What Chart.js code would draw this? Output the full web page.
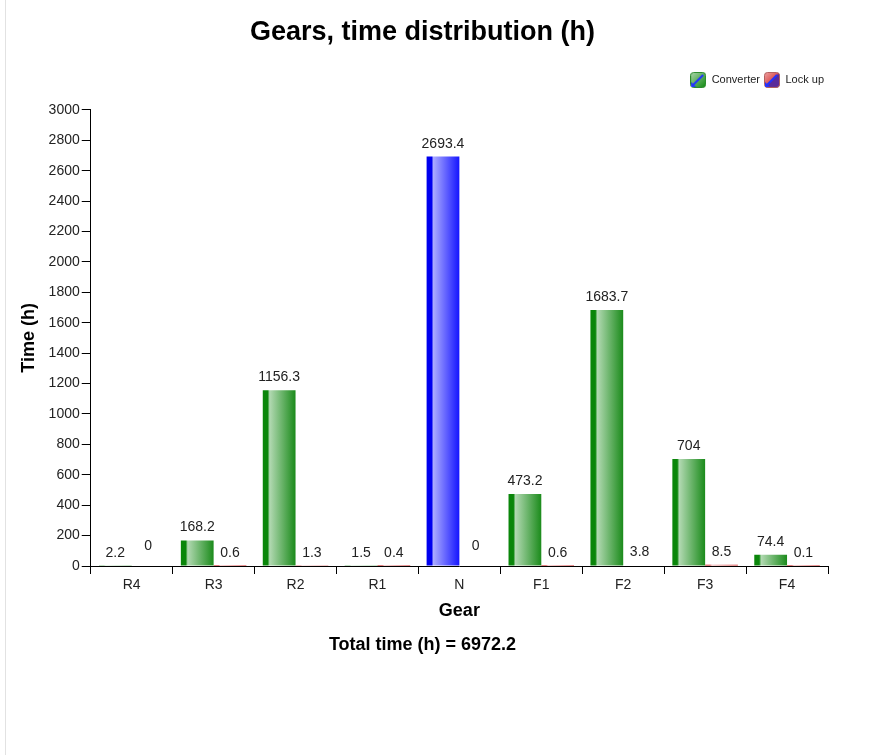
<!DOCTYPE html>
<html><head><meta charset="utf-8">
<script src="https://cdn.jsdelivr.net/npm/chart.js@4/dist/chart.umd.min.js"></script>
<style>
html,body{margin:0;padding:0;background:#fff;}
#wrap{position:relative;width:888px;height:755px;overflow:hidden;}
#edge{position:absolute;left:5px;top:0;width:1px;height:755px;background:#e2e2e2;}
canvas{position:absolute;left:0;top:0;}
</style></head><body>
<div id="wrap"><div id="edge"></div><canvas id="c" width="888" height="755"></canvas></div>
<script>
// ---- data ----
const categories = ['R4', 'R3', 'R2', 'R1', 'N', 'F1', 'F2', 'F3', 'F4'];
const converterHours = [2.2, 168.2, 1156.3, 1.5, 2693.4, 473.2, 1683.7, 704, 74.4];
const lockUpHours = [0, 0.6, 1.3, 0.4, 0, 0.6, 3.8, 8.5, 0.1];
const seriesNames = ['Converter', 'Lock up'];
const yMin = 0, yMax = 3000, yStep = 200;
const neutralGear = 'N';

const totalHours = converterHours.concat(lockUpHours).reduce((a, b) => a + b, 0);

// ---- style ----
const FONT = '"Liberation Sans", Arial, Helvetica, sans-serif';
Chart.defaults.font.family = FONT;
Chart.defaults.color = '#222';

const palettes = {
  green: ['#0a860a', '#0a860a', '#b2d9b2', '#1b8b1b'],
  blue:  ['#0000ee', '#0000ee', '#aaaaff', '#1515ff'],
  red:   ['#c80000', '#c80000', '#f0a8a8', '#d01818']
};
const solid = { green: '#1b8b1b', blue: '#1515ff', red: '#d01818' };

function converterTone(i) { return categories[i] === neutralGear ? 'blue' : 'green'; }

function makeIcon(tone) {
  const c = document.createElement('canvas');
  c.width = 16; c.height = 16;
  const g = c.getContext('2d');
  const p = palettes[tone];
  const grad = g.createLinearGradient(0, 0, 16, 16);
  grad.addColorStop(0, p[2]); grad.addColorStop(1, p[0]);
  g.beginPath();
  g.roundRect(0.5, 0.5, 15, 15, 3);
  g.fillStyle = grad; g.fill();
  if (tone === 'red') {
    g.save(); g.clip();
    g.beginPath(); g.moveTo(0, 16); g.lineTo(16, 0); g.lineTo(16, 16); g.closePath();
    g.fillStyle = '#5a2a9a'; g.fill();
    g.restore();
  }
  g.strokeStyle = tone === 'red' ? '#b06060' : '#2a8a2a';
  g.lineWidth = 1; g.beginPath(); g.roundRect(0.5, 0.5, 15, 15, 3); g.stroke();
  g.strokeStyle = '#2233ff'; g.lineWidth = 2;
  g.beginPath(); g.moveTo(3, 13); g.lineTo(13, 3); g.stroke();
  g.fillStyle = '#2233ff';
  g.beginPath(); g.moveTo(1, 15); g.lineTo(1, 10); g.lineTo(6, 15); g.closePath(); g.fill();
  return c;
}
const icons = [makeIcon('green'), makeIcon('red')];

const gradientPlugin = {
  id: 'barGradient',
  beforeDatasetsDraw(chart) {
    const ctx = chart.ctx;
    chart.data.datasets.forEach((ds, di) => {
      const meta = chart.getDatasetMeta(di);
      meta.data.forEach((el, i) => {
        const tone = di === 0 ? converterTone(i) : 'red';
        const p = palettes[tone];
        const l = el.x - el.width / 2, r = el.x + el.width / 2;
        const g = ctx.createLinearGradient(l, 0, r, 0);
        g.addColorStop(0, p[0]); g.addColorStop(0.15, p[1]);
        g.addColorStop(0.21, p[2]); g.addColorStop(1, p[3]);
        el.options.backgroundColor = g;
      });
    });
  }
};

const valueLabelPlugin = {
  id: 'valueLabels',
  afterDatasetsDraw(chart) {
    const ctx = chart.ctx;
    ctx.save();
    ctx.font = '14px ' + FONT;
    ctx.fillStyle = '#222';
    ctx.textAlign = 'center';
    ctx.textBaseline = 'alphabetic';
    chart.data.datasets.forEach((ds, di) => {
      chart.getDatasetMeta(di).data.forEach((el, i) => {
        const v = ds.data[i];
        ctx.fillText(String(v), el.x, el.y - (v === 0 ? 16 : 9));
      });
    });
    ctx.restore();
  }
};

new Chart(document.getElementById('c'), {
  type: 'bar',
  data: {
    labels: categories,
    datasets: [
      { label: seriesNames[0], data: converterHours, xAxisID: 'x', yAxisID: 'y',
        backgroundColor: (c) => solid[converterTone(c.dataIndex)] },
      { label: seriesNames[1], data: lockUpHours, xAxisID: 'x', yAxisID: 'y',
        backgroundColor: (c) => solid.red }
    ]
  },
  options: {
    responsive: false,
    animation: false,
    barPercentage: 1.0,
    categoryPercentage: 0.8,
    layout: { padding: { left: 17, right: 60, top: 0, bottom: 89 } },
    plugins: {
      title: {
        display: true, text: 'Gears, time distribution (h)', color: '#000',
        font: { size: 27, weight: 'bold' }, padding: { top: 16, bottom: 22 }
      },
      subtitle: {
        display: true, position: 'bottom', text: 'Total time (h) = ' + totalHours.toFixed(1),
        color: '#000', font: { size: 18, weight: 'bold' }, padding: { top: 9, bottom: 10 }
      },
      legend: {
        display: true, position: 'top', align: 'end',
        labels: {
          usePointStyle: true, pointStyleWidth: 16, boxHeight: 11, padding: 4,
          color: '#222', font: { size: 11 },
          generateLabels(chart) {
            const items = Chart.defaults.plugins.legend.labels.generateLabels(chart);
            items.forEach((it, k) => { it.pointStyle = icons[k]; });
            return items;
          }
        }
      },
      tooltip: { enabled: false }
    },
    scales: {
      x: {
        type: 'category', position: 'bottom',
        grid: { display: true, drawOnChartArea: false, drawTicks: true, tickLength: 8, color: '#000', offset: true },
        border: { display: true, color: '#000', width: 1 },
        ticks: { color: '#222', font: { size: 14 }, padding: 3, maxRotation: 0 },
        title: { display: true, text: 'Gear', color: '#000', font: { size: 18, weight: 'bold' }, padding: { top: 3, bottom: 4 } }
      },
      xSpacer: {
        type: 'category', position: 'top', display: true,
        grid: { display: false }, border: { display: false }, ticks: { display: false },
        afterFit(s) { s.height = 14.5; }
      },
      y: {
        type: 'linear', min: yMin, max: yMax,
        grid: { display: true, drawOnChartArea: false, drawTicks: true, tickLength: 9, color: '#000' },
        border: { display: true, color: '#000', width: 1 },
        ticks: { stepSize: yStep, color: '#222', font: { size: 14 }, padding: 2, callback: (v) => String(v) },
        title: { display: true, text: 'Time (h)', color: '#000', font: { size: 18, weight: 'bold' }, padding: { top: 1, bottom: 7 } }
      }
    }
  },
  plugins: [gradientPlugin, valueLabelPlugin]
});
</script>
</body></html>
